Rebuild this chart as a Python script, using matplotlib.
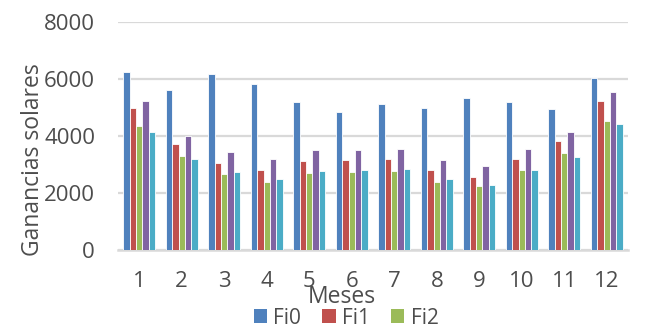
import matplotlib
matplotlib.use("Agg")
import matplotlib.pyplot as plt
import numpy as np
from matplotlib.patches import Patch

months = ["1", "2", "3", "4", "5", "6", "7", "8", "9", "10", "11", "12"]
series_names = ["Fi0", "Fi1", "Fi2", "Fi3", "Fi4"]
fi0 = [6250, 5620, 6190, 5830, 5180, 4840, 5130, 4980, 5320, 5210, 4930, 6020]
fi1 = [4990, 3710, 3040, 2800, 3110, 3160, 3190, 2790, 2570, 3190, 3840, 5230]
fi2 = [4360, 3310, 2680, 2400, 2690, 2740, 2780, 2390, 2230, 2820, 3400, 4520]
fi3 = [5230, 4010, 3450, 3190, 3500, 3500, 3560, 3170, 2930, 3530, 4130, 5550]
fi4 = [4130, 3210, 2730, 2480, 2770, 2800, 2850, 2480, 2290, 2810, 3280, 4410]
colors = ["#4F81BD", "#C0504D", "#9BBB59", "#8064A2", "#4BACC6"]

text_color = "#4D4D4D"
plt.rcParams["font.family"] = ["Open Sans", "DejaVu Sans"]

fig = plt.figure(figsize=(6.54, 3.36), dpi=100)
ax = fig.add_axes([118 / 654, 1 - 250 / 336, 510 / 654, 228 / 336])

x = np.arange(len(months))
width = 0.15
for i, (vals, c, name) in enumerate(zip([fi0, fi1, fi2, fi3, fi4], colors, series_names)):
    ax.bar(x + (i - 2) * width, vals, width, color=c, edgecolor="white",
           linewidth=0.6, label=name, zorder=3)

ax.set_xlim(-0.5, len(months) - 0.5)
ax.set_ylim(0, 8000)
ax.set_yticks([0, 2000, 4000, 6000, 8000])
ax.set_xticks(x)
ax.set_xticklabels(months)
ax.yaxis.grid(True, color="#D9D9D9", linewidth=1.6, zorder=0)
ax.set_axisbelow(True)
for s in ["top", "right", "left"]:
    ax.spines[s].set_visible(False)
ax.spines["bottom"].set_color("#D9D9D9")
ax.spines["bottom"].set_linewidth(1.8)
ax.tick_params(axis="both", length=0, labelsize=16, colors=text_color)
ax.tick_params(axis="y", pad=16.5)
ax.tick_params(axis="x", pad=15)

fig.text(33 / 654, 1 - 160 / 336, "Ganancias solares", rotation=90,
         ha="center", va="center", fontsize=16.5, color=text_color)
fig.text(342 / 654, 1 - 297 / 336, "Meses", ha="center", va="center",
         fontsize=16.5, color=text_color)

handles = [Patch(facecolor=c, edgecolor="none") for c in colors[:3]]
fig.legend(handles, series_names[:3], loc="center", ncol=3,
           bbox_to_anchor=(346 / 654, 1 - 318 / 336), frameon=False,
           fontsize=15, labelcolor=text_color, handlelength=0.65,
           handleheight=0.65, handletextpad=0.3, columnspacing=1.0,
           borderpad=0)

fig.savefig("out.png", dpi=100)
